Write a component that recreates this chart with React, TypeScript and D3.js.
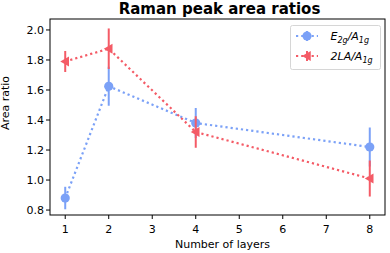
import * as d3 from "d3";

const layers = [1, 2, 4, 8];
const e2gValues = [0.88, 1.625, 1.38, 1.22];
const e2gErrors = [0.075, 0.13, 0.1, 0.13];
const laValues = [1.79, 1.875, 1.32, 1.01];
const laErrors = [0.07, 0.135, 0.105, 0.12];
const xTicks = [1, 2, 3, 4, 5, 6, 7, 8];
const yTicks = [0.8, 1.0, 1.2, 1.4, 1.6, 1.8, 2.0];

const W = 390;
const H = 253;
const margin = { top: 19, right: 5, bottom: 38, left: 50 };
const blue = "#7ba1f7";
const red = "#f45b66";
const font = "DejaVu Sans, sans-serif";

export default function App() {
  const x = d3.scaleLinear().domain([0.65, 8.35]).range([margin.left, W - margin.right]);
  const y = d3.scaleLinear().domain([0.767, 2.073]).range([H - margin.bottom, margin.top]);

  const line = d3
    .line<number>()
    .x((_, i) => x(layers[i]))
    .y((v) => y(v));

  const tri = (cx: number, cy: number, r: number) =>
    `M${cx - r},${cy} L${cx + r * 0.75},${cy - r} L${cx + r * 0.75},${cy + r} Z`;

  const series = [
    { vals: e2gValues, errs: e2gErrors, color: blue, marker: "o" },
    { vals: laValues, errs: laErrors, color: red, marker: "<" },
  ];

  return (
    <svg width={W} height={H} style={{ position: "absolute", left: 0, top: 0 }} fontFamily={font}>
      <rect width={W} height={H} fill="white" />
      <text x={219.5} y={14} textAnchor="middle" fontSize={15} fontWeight="bold">
        Raman peak area ratios
      </text>

      {/* series */}
      {series.map((s, si) => (
        <g key={si}>
          <path
            d={line(s.vals) ?? ""}
            fill="none"
            stroke={s.color}
            strokeWidth={2.2}
            strokeDasharray="2.2,3"
          />
          {s.vals.map((v, i) => (
            <g key={i}>
              <line
                x1={x(layers[i])}
                x2={x(layers[i])}
                y1={y(v - s.errs[i])}
                y2={y(v + s.errs[i])}
                stroke={s.color}
                strokeWidth={2}
              />
              {s.marker === "o" ? (
                <circle cx={x(layers[i])} cy={y(v)} r={4.6} fill={s.color} />
              ) : (
                <path d={tri(x(layers[i]), y(v), 5)} fill={s.color} />
              )}
            </g>
          ))}
        </g>
      ))}

      {/* frame */}
      <rect
        x={margin.left}
        y={margin.top}
        width={W - margin.left - margin.right}
        height={H - margin.top - margin.bottom}
        fill="none"
        stroke="black"
        strokeWidth={1}
      />

      {/* x axis */}
      {xTicks.map((t) => (
        <g key={t}>
          <line x1={x(t)} x2={x(t)} y1={H - margin.bottom} y2={H - margin.bottom + 4} stroke="black" />
          <text x={x(t)} y={H - margin.bottom + 18} textAnchor="middle" fontSize={11}>
            {t}
          </text>
        </g>
      ))}
      <text x={222.5} y={248} textAnchor="middle" fontSize={11}>
        Number of layers
      </text>

      {/* y axis */}
      {yTicks.map((t) => (
        <g key={t}>
          <line x1={margin.left - 4} x2={margin.left} y1={y(t)} y2={y(t)} stroke="black" />
          <text x={margin.left - 6} y={y(t) + 4} textAnchor="end" fontSize={11}>
            {t.toFixed(1)}
          </text>
        </g>
      ))}
      <text transform={`translate(9,103) rotate(-90)`} textAnchor="middle" fontSize={11}>
        Area ratio
      </text>

      {/* legend */}
      <rect x={290.5} y={25.5} width={90} height={44} rx={2} fill="white" fillOpacity={0.8} stroke="#d6d6d6" />
      <line x1={296} x2={318} y1={36} y2={36} stroke={blue} strokeWidth={2.2} strokeDasharray="2.2,3" />
      <line x1={307} x2={307} y1={31} y2={41} stroke={blue} strokeWidth={2} />
      <circle cx={307} cy={36} r={4.6} fill={blue} />
      <text x={330.5} y={40} fontSize={11} fontStyle="italic">
        E<tspan fontSize={8} dy={3}>2g</tspan>
        <tspan dy={-3}>/A</tspan>
        <tspan fontSize={8} dy={3}>1g</tspan>
      </text>
      <line x1={296} x2={318} y1={56} y2={56} stroke={red} strokeWidth={2.2} strokeDasharray="2.2,3" />
      <line x1={307} x2={307} y1={51} y2={61} stroke={red} strokeWidth={2} />
      <path d={tri(307, 56, 5)} fill={red} />
      <text x={330.5} y={60} fontSize={11} fontStyle="italic">
        2LA/A<tspan fontSize={8} dy={3}>1g</tspan>
      </text>
    </svg>
  );
}
